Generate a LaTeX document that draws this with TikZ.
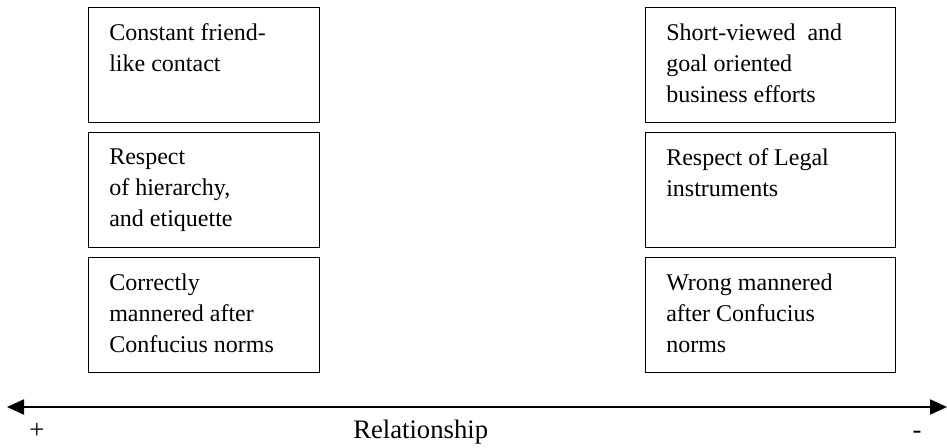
\documentclass[tikz,border=0pt]{standalone}
\usepackage{fontspec}
\setmainfont{Liberation Serif}
\usetikzlibrary{arrows.meta, positioning}

\begin{document}
\begin{tikzpicture}[x=0.75pt,y=-0.75pt,node distance=6.4pt]
  \tikzstyle{every node}=[font=\fontsize{18}{23.25}\selectfont]
  \tikzstyle{lbox}=[draw,line width=1.1pt,minimum width=173.25pt,minimum height=86.25pt,inner sep=0pt]
  \tikzstyle{rbox}=[lbox,minimum width=187.5pt]
  \tikzstyle{btext}=[anchor=north west,align=left,inner sep=0pt,xshift=15.75pt,yshift=-12.4pt]
  \tikzstyle{axislabel}=[font=\fontsize{20}{24}\selectfont,inner sep=0pt]

  \useasboundingbox (0,0) rectangle (947,447);

  % left column (+)
  \node[lbox,anchor=north west](friend) at (88,7) {};
  \node[lbox](hier)[below=of friend] {};
  \node[lbox](conf)[below=of hier] {};
  \node[btext](friend-t) at (friend.north west) {Constant friend-\\like contact};
  \node[btext](hier-t) at (hier.north west) {Respect\\of hierarchy,\\and etiquette};
  \node[btext](conf-t) at (conf.north west) {Correctly\\mannered after\\Confucius norms};

  % right column (-)
  \node[rbox,anchor=north west](short) at (645,7) {};
  \node[rbox](legal)[below=of short] {};
  \node[rbox](wrong)[below=of legal] {};
  \node[btext](short-t) at (short.north west) {Short-viewed\ \ and\\goal oriented\\business efforts};
  \node[btext](legal-t) at (legal.north west) {Respect of Legal\\instruments};
  \node[btext](wrong-t) at (wrong.north west) {Wrong mannered\\after Confucius\\norms};

  % relationship axis
  \coordinate (lend) at (7,407);
  \coordinate (rend) at (947,407);
  \draw[line width=1.6pt,{Triangle[length=12.75pt,width=11.25pt]}-{Triangle[length=12.75pt,width=11.25pt]}] (lend) -- (rend);
  \node[axislabel,anchor=base](plus) at (37,438) {+};
  \node[axislabel,anchor=base west](rel) at (353,438) {Relationship};
  \node[axislabel,anchor=base](minus) at (917,438) {-};
\end{tikzpicture}
\end{document}
